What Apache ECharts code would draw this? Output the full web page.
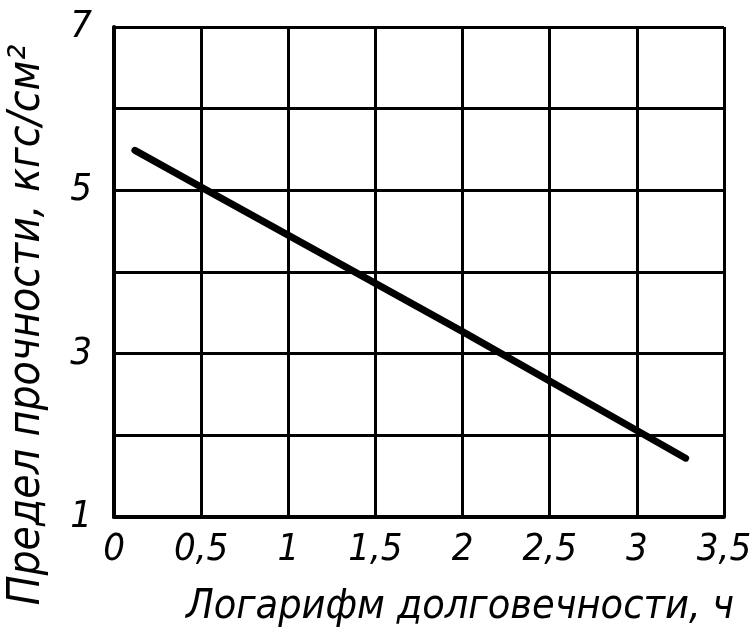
<!DOCTYPE html>
<html>
<head>
<meta charset="utf-8">
<script src="https://cdn.jsdelivr.net/npm/echarts@6/dist/echarts.min.js"></script>
<style>
  html, body { margin: 0; padding: 0; background: #fff; }
  #chart { width: 756px; height: 635px; }
</style>
</head>
<body>
<div id="chart"></div>
<script>
// values
var logLife = [0.12, 0.5, 1.5, 2.0, 3.0, 3.28];
var strength = [5.49, 5.04, 3.86, 3.27, 2.06, 1.72];
var xTicks = ['0', '0,5', '1', '1,5', '2', '2,5', '3', '3,5'];
var yTickShown = [1, 3, 5, 7];

var font = '"DejaVu Sans Condensed", "Liberation Sans Narrow", "DejaVu Sans", sans-serif';

var points = logLife.map(function (x, i) { return [x, strength[i]]; });

var chart = echarts.init(document.getElementById('chart'));
var option = {
  animation: false,
  grid: { left: 114, top: 27, width: 610, height: 490, containLabel: false, outerBoundsMode: 'none' },
  xAxis: {
    type: 'value',
    min: 0, max: 3.5, interval: 0.5,
    name: 'Логарифм долговечности, ч',
    nameLocation: 'middle',
    nameGap: 70,
    nameTextStyle: { fontFamily: font, fontStyle: 'italic', fontSize: 41, color: '#000', padding: [0, 0, 0, 82] },
    axisLine: { lineStyle: { color: '#000', width: 4 } },
    axisTick: { show: false },
    splitLine: { show: true, lineStyle: { color: '#000', width: 3 } },
    axisLabel: {
      fontFamily: font, fontStyle: 'italic', fontSize: 38, color: '#000', margin: 14,
      formatter: function (v) { return xTicks[Math.round(v / 0.5)]; }
    }
  },
  yAxis: {
    type: 'value',
    min: 1, max: 7, interval: 1,
    name: 'Предел прочности, кгс/см²',
    nameLocation: 'middle',
    nameGap: 64,
    nameTextStyle: { fontFamily: font, fontStyle: 'italic', fontSize: 44, color: '#000', padding: [0, 106, 0, 0] },
    axisLine: { show: true, lineStyle: { color: '#000', width: 4 } },
    axisTick: { show: false },
    splitLine: { show: true, lineStyle: { color: '#000', width: 3 } },
    axisLabel: {
      fontFamily: font, fontStyle: 'italic', fontSize: 38, color: '#000', margin: 22,
      formatter: function (v) { return yTickShown.indexOf(v) >= 0 ? String(v) : ''; }
    }
  },
  series: [{
    type: 'line',
    data: points,
    symbol: 'none',
    lineStyle: { color: '#000', width: 7, cap: 'round' }
  }]
};
chart.setOption(option);
</script>
</body>
</html>
